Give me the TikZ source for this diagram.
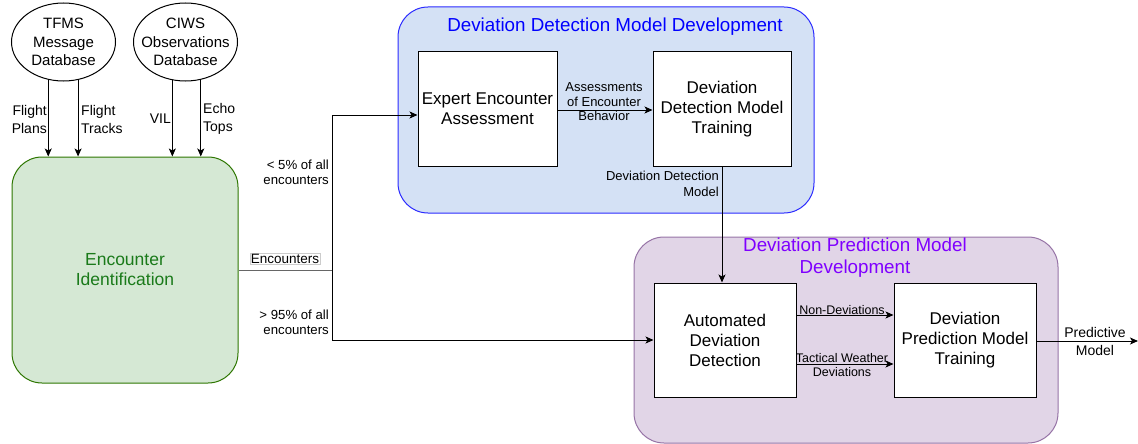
\documentclass[tikz,border=0pt]{standalone}
\usepackage{fontspec}
\setmainfont{Liberation Sans}
\usetikzlibrary{shapes.geometric,arrows.meta}

\definecolor{encfill}{HTML}{D5E8D4}
\definecolor{encline}{HTML}{2D7600}
\definecolor{enctext}{HTML}{1A7A1A}
\definecolor{ddfill}{HTML}{D4E1F5}
\definecolor{ddline}{HTML}{2A2AFF}
\definecolor{ddtext}{HTML}{0000FF}
\definecolor{dpfill}{HTML}{E1D5E7}
\definecolor{dpline}{HTML}{9673A6}
\definecolor{dptext}{HTML}{7F00FF}

\tikzset{
  arr/.style={line width=1pt,-{Stealth[length=8pt,width=7pt,inset=2pt]}},
  plain/.style={line width=1pt},
  procbox/.style={draw, fill=white, line width=1pt, align=center, inner sep=2pt,
    minimum height=114pt, font=\fontsize{17}{20}\selectfont},
  dbase/.style={ellipse, draw, fill=white, line width=1pt, inner sep=-9pt,
    minimum width=104pt, minimum height=78pt, align=center,
    font=\fontsize{15}{18.5}\selectfont},
  groupbox/.style={draw, line width=1pt, rounded corners=30pt, inner sep=0pt},
  grouptitle/.style={align=center, font=\fontsize{18.8}{22}\selectfont},
  lbl/.style={inner sep=0pt, font=\fontsize{14}{18}\selectfont},
  smlbl/.style={inner sep=0pt, align=center, font=\fontsize{12.5}{14.5}\selectfont},
}

\begin{document}
\begin{tikzpicture}[x=1pt,y=-1pt]
\useasboundingbox (0,0) rectangle (1138,444);

% group backgrounds
\node[groupbox, fill=ddfill, draw=ddline, minimum width=416pt, minimum height=206pt]
  (ddgroup) at (606,110) {};
\node[grouptitle, text=ddtext] (ddtitle) at (615,27) {Deviation Detection Model Development};

\node[groupbox, fill=dpfill, draw=dpline, minimum width=424pt, minimum height=206pt]
  (dpgroup) at (846,340) {};
\node[grouptitle, text=dptext] (dptitle) at (855,258) {Deviation Prediction Model\\Development};

% data sources
\node[dbase] (tfms) at (63.5,42) {TFMS\\Message\\Database};
\node[dbase] (ciws) at (185.5,42) {CIWS\\Observations\\Database};

% encounter identification
\node[draw=encline, fill=encfill, line width=1pt, rounded corners=30pt,
      minimum width=226pt, minimum height=226pt, align=center, text=enctext,
      font=\fontsize{17.5}{20}\selectfont] (enc) at (125,270) {Encounter\\Identification};

% process boxes
\node[procbox, minimum width=139pt] (expert) at (487.5,109) {Expert Encounter\\Assessment};
\node[procbox, minimum width=138pt] (det) at (722,109) {Deviation\\Detection Model\\Training};
\node[procbox, minimum width=142pt] (auto) at (725,340) {Automated\\Deviation\\Detection};
\node[procbox, minimum width=142pt] (pred) at (965,340) {Deviation\\Prediction Model\\Training};

% inputs to encounter identification
\draw[arr] (tfms.248.8) -- (tfms.248.8 |- enc.north);
\draw[arr] (tfms.291.2) -- (tfms.291.2 |- enc.north);
\draw[arr] (ciws.251.7) -- (ciws.251.7 |- enc.north);
\draw[arr] (ciws.292.6) -- (ciws.292.6 |- enc.north);

\node[lbl, align=right, anchor=east] (lplans) at (47,119) {Flight\\Plans};
\node[lbl, align=left, anchor=west] (ltracks) at (81,119) {Flight\\Tracks};
\node[lbl, anchor=east] (lvil) at (171,119) {VIL};
\node[lbl, align=left, anchor=west] (lecho) at (203,119) {Echo\\Tops};

% encounter split
\coordinate (split) at (332,270);
\draw[plain, draw=black!60] (enc.east |- split) -- (split);
\node[lbl, fill=white, draw=black!20, line width=0.5pt, inner sep=1pt,
      font=\fontsize{13.5}{16}\selectfont] (lenc) at (285,259) {Encounters};
\draw[arr] (split) |- ([yshift=-6pt]expert.west);
\draw[arr] (split) |- (auto.west);

\node[lbl, align=right, anchor=east, font=\fontsize{13.2}{15}\selectfont] (lfew) at (329,172)
  {< 5\% of all\\encounters};
\node[lbl, align=right, anchor=east, font=\fontsize{13.2}{15}\selectfont] (lmost) at (329,322)
  {> 95\% of all\\encounters};

% detection model development
\draw[arr] ([yshift=-1pt]expert.east) -- ([yshift=-1pt]det.west);
\node[smlbl, font=\fontsize{13}{14.5}\selectfont] (lassess) at (604,102)
  {Assessments\\of Encounter\\Behavior};

\draw[arr] (det.south) -- (det.south |- auto.north);
\node[lbl, align=right, anchor=east, font=\fontsize{13}{16.5}\selectfont] (ldetmodel) at (719,184)
  {Deviation Detection\\Model};

% prediction model development
\draw[arr] ([yshift=25pt]auto.east) -- ([yshift=25pt]pred.west);
\node[smlbl] (lnon) at (842,310) {Non-Deviations};
\draw[arr] ([yshift=-24pt]auto.east) -- ([yshift=-24pt]pred.west);
\node[smlbl] (ltac) at (842,365) {Tactical Weather\\Deviations};

\coordinate (out) at (1138,341);
\draw[arr] (pred.east |- out) -- (out);
\node[lbl, align=center] (lpred) at (1095,341) {Predictive\\Model};
\end{tikzpicture}
\end{document}
